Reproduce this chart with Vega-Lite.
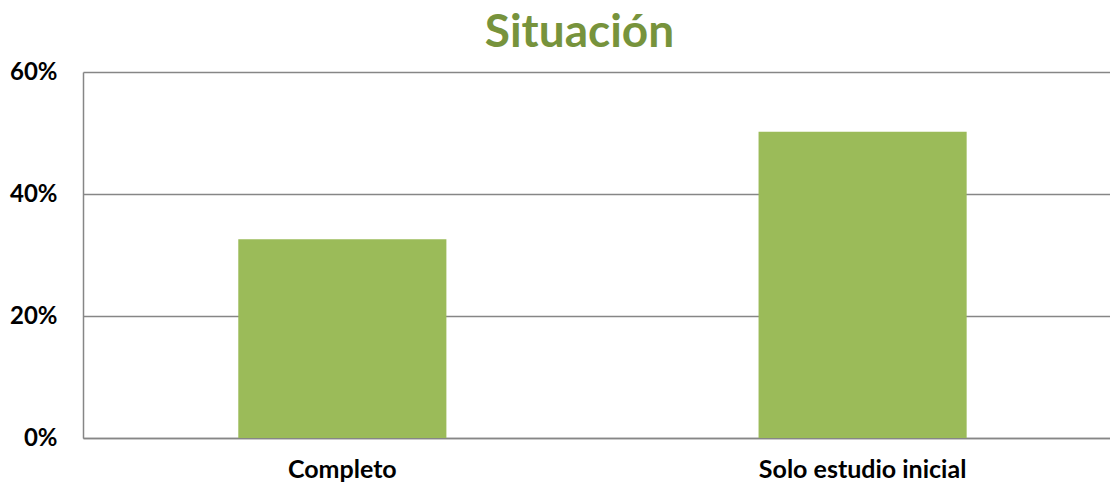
{
  "$schema": "https://vega.github.io/schema/vega-lite/v6.json",
  "autosize": {"type": "none"},
  "padding": {"left": 83, "top": 72, "right": 0, "bottom": 45},
  "width": 1027,
  "height": 366,
  "background": "white",
  "title": {
    "text": "Situación",
    "font": "Lato",
    "fontSize": 46,
    "fontWeight": "bold",
    "color": "#77933C",
    "anchor": "middle",
    "dx": -17,
    "offset": 3
  },
  "data": {
    "values": [
      {"situacion": "Completo", "pct": 0.326},
      {"situacion": "Solo estudio inicial", "pct": 0.502}
    ]
  },
  "mark": {"type": "bar", "color": "#9BBB59"},
  "encoding": {
    "x": {
      "field": "situacion",
      "type": "nominal",
      "sort": null,
      "scale": {"paddingInner": 0.6, "paddingOuter": 0.287, "align": 0.52},
      "axis": {
        "title": null,
        "labelAngle": 0,
        "labelFont": "Lato",
        "labelFontSize": 25,
        "labelFontWeight": "bold",
        "labelColor": "#000000",
        "labelPadding": 19,
        "labelLimit": 0,
        "ticks": false,
        "domainColor": "#868686",
        "domainWidth": 1.5
      }
    },
    "y": {
      "field": "pct",
      "type": "quantitative",
      "scale": {"domain": [0, 0.6], "nice": false},
      "axis": {
        "title": null,
        "values": [0, 0.2, 0.4, 0.6],
        "format": ".0%",
        "labelFont": "Lato",
        "labelFontSize": 24,
        "labelFontWeight": "bold",
        "labelColor": "#000000",
        "labelPadding": 26,
        "ticks": false,
        "domainColor": "#868686",
        "domainWidth": 1.5,
        "gridColor": "#868686",
        "gridWidth": 1.5,
        "gridOpacity": 1
      }
    }
  },
  "config": {
    "view": {"stroke": null}
  }
}
